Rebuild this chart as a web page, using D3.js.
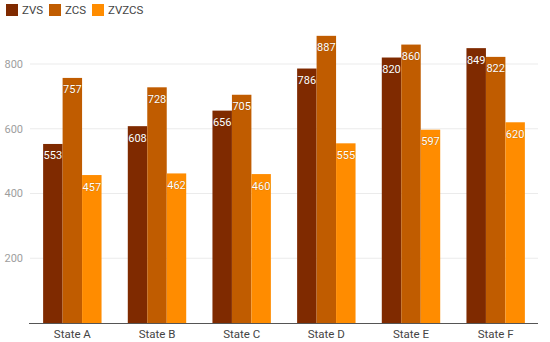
<!DOCTYPE html>
<html>
<head>
<meta charset="utf-8">
<script src="https://cdn.jsdelivr.net/npm/d3@7"></script>
<style>
  body { margin: 0; background: #fff; }
  svg { font-family: Roboto, "Noto Sans", sans-serif; }
</style>
</head>
<body>
<svg id="chart" width="550" height="342"></svg>
<script>
const states = ["State A", "State B", "State C", "State D", "State E", "State F"];
const seriesNames = ["ZVS", "ZCS", "ZVZCS"];
const zvs = [553, 608, 656, 786, 820, 849];
const zcs = [757, 728, 705, 887, 860, 822];
const zvzcs = [457, 462, 460, 555, 597, 620];
const yTicks = [200, 400, 600, 800];
const colours = ["#7f2a00", "#c05c00", "#ff8c00"];

const svg = d3.select("#chart");
const margin = { top: 0, left: 30, right: 12, bottom: 19 };
const width = 550, height = 342;

const rows = states.map((s, i) => ({ state: s, values: [zvs[i], zcs[i], zvzcs[i]] }));

const x = d3.scaleBand()
  .domain(states)
  .range([margin.left, width - margin.right])
  .paddingInner(0.31)
  .paddingOuter(0.155);

const x1 = d3.scaleBand()
  .domain(seriesNames)
  .range([0, x.bandwidth()]);

const y = d3.scaleLinear()
  .domain([0, 800])
  .range([height - margin.bottom, 64]);

// gridlines
svg.append("g")
  .selectAll("line")
  .data(yTicks)
  .join("line")
  .attr("x1", margin.left)
  .attr("x2", width - margin.right)
  .attr("y1", d => y(d))
  .attr("y2", d => y(d))
  .attr("stroke", "#ebebeb")
  .attr("stroke-width", 1);

// y tick labels
svg.append("g")
  .selectAll("text")
  .data(yTicks)
  .join("text")
  .attr("x", 23)
  .attr("y", d => y(d))
  .attr("dy", "0.35em")
  .attr("text-anchor", "end")
  .attr("fill", "#9e9e9e")
  .attr("font-size", 11)
  .text(d => d);

// bars
const groups = svg.append("g")
  .selectAll("g")
  .data(rows)
  .join("g")
  .attr("transform", d => `translate(${x(d.state)},0)`);

groups.selectAll("rect")
  .data(d => d.values.map((v, i) => ({ name: seriesNames[i], value: v, i: i })))
  .join("rect")
  .attr("x", d => x1(d.name))
  .attr("width", x1.bandwidth())
  .attr("y", d => y(d.value))
  .attr("height", d => y(0) - y(d.value))
  .attr("fill", d => colours[d.i]);

groups.selectAll("text")
  .data(d => d.values.map((v, i) => ({ name: seriesNames[i], value: v })))
  .join("text")
  .attr("x", d => x1(d.name) + x1.bandwidth() / 2)
  .attr("y", d => y(d.value) + 15.5)
  .attr("text-anchor", "middle")
  .attr("fill", "#ffffff")
  .attr("stroke", "rgba(60,30,0,0.35)")
  .attr("stroke-width", 0.6)
  .attr("paint-order", "stroke")
  .attr("font-size", 11)
  .text(d => d.value);

// x axis line
svg.append("line")
  .attr("x1", 29)
  .attr("x2", width - margin.right)
  .attr("y1", y(0) + 0.5)
  .attr("y2", y(0) + 0.5)
  .attr("stroke", "#555")
  .attr("stroke-width", 1);

// category labels
svg.append("g")
  .selectAll("text")
  .data(states)
  .join("text")
  .attr("x", d => x(d) + x.bandwidth() / 2)
  .attr("y", 338)
  .attr("text-anchor", "middle")
  .attr("fill", "#444")
  .attr("font-size", 11.5)
  .text(d => d);

// legend
const legendX = [6, 49, 92];
const legend = svg.append("g")
  .selectAll("g")
  .data(seriesNames)
  .join("g")
  .attr("transform", (d, i) => `translate(${legendX[i]},4)`);

legend.append("rect")
  .attr("width", 12)
  .attr("height", 12)
  .attr("fill", (d, i) => colours[i]);

legend.append("text")
  .attr("x", 16)
  .attr("y", 6)
  .attr("dy", "0.35em")
  .attr("fill", "#444")
  .attr("font-size", 11.5)
  .text(d => d);
</script>
</body>
</html>
